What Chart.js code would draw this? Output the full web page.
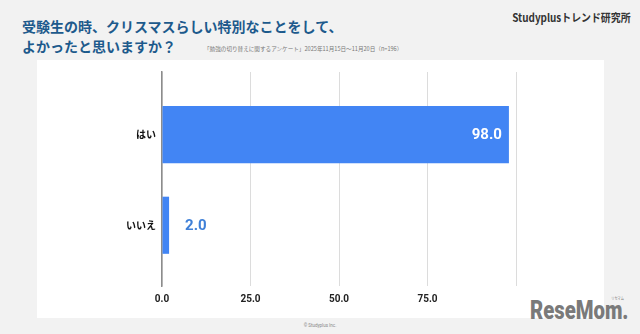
<!DOCTYPE html>
<html lang="ja">
<head>
<meta charset="utf-8">
<script src="https://cdn.jsdelivr.net/npm/chart.js@4.4.1/dist/chart.umd.min.js"></script>
<style>
  html, body { margin: 0; padding: 0; }
  body { width: 640px; height: 334px; background: #f2f2f2; position: relative; overflow: hidden; font-family: 'Noto Sans CJK JP', sans-serif; }
  .panel { position: absolute; left: 37px; top: 60px; width: 567px; height: 258px; background: #fff; }
  .title { position: absolute; left: 22px; top: 16px; margin: 0; font-size: 14px; font-weight: 700; color: #1d5a8c; line-height: 20px; letter-spacing: 0; }
  .sub { position: absolute; left: 204px; top: 45px; font-size: 5.6px; line-height: 8px; color: #777; white-space: nowrap; }
  .brand { position: absolute; right: 9px; top: 11px; font-size: 11px; line-height: 12px; font-weight: 700; color: #333; transform: scaleX(0.9); transform-origin: right center; white-space: nowrap; }
  .copy { position: absolute; left: 0; width: 640px; top: 323px; text-align: center; font-size: 4.5px; line-height: 6px; color: #888; font-family: Roboto, sans-serif; }
  .logo { position: absolute; left: 530px; top: 297px; font-family: Roboto, sans-serif; font-weight: 900; font-size: 26px; line-height: 26px; color: #7a7a7a; transform: scaleX(0.78); transform-origin: left top; }
  .logo small { position: absolute; right: 6px; top: -1px; font-size: 4px; line-height: 5px; font-weight: 400; font-family: 'Noto Sans CJK JP', sans-serif; }
  #chart { position: absolute; left: 0; top: 0; }
</style>
</head>
<body>
<div class="panel"></div>
<h1 class="title">受験生の時、クリスマスらしい特別なことをして、<br>よかったと思いますか？</h1>
<div class="sub">「勉強の切り替えに関するアンケート」2025年11月15日～11月20日（n=196）</div>
<div class="brand">Studyplusトレンド研究所</div>
<div class="copy">© Studyplus Inc.</div>
<div class="logo">ReseMom.<small>リセマム</small></div>
<canvas id="chart" width="640" height="334"></canvas>
<script>
// data
const categories = ['はい', 'いいえ'];
const values = [98.0, 2.0];
const xTicks = [0, 25, 50, 75];

const barBlue = '#4285f4';

// value labels: inside the long bar, outside the short one
const valueLabels = {
    id: 'valueLabels',
    afterDatasetsDraw(chart) {
        const ctx = chart.ctx;
        const meta = chart.getDatasetMeta(0);
        ctx.save();
        ctx.font = 'bold 15px Roboto, sans-serif';
        ctx.textBaseline = 'middle';
        meta.data.forEach((bar, i) => {
            const v = values[i];
            const txt = v.toFixed(1);
            if (v > 50) {
                ctx.fillStyle = '#ffffff';
                ctx.textAlign = 'right';
                ctx.fillText(txt, bar.x - 7, bar.y + 1);
            } else {
                ctx.fillStyle = '#3f80d8';
                ctx.textAlign = 'left';
                ctx.fillText(txt, bar.x + 16, bar.y + 1);
            }
        });
        ctx.restore();
    }
};

new Chart(document.getElementById('chart'), {
    type: 'bar',
    data: {
        datasets: [{
            data: values.map((v, i) => ({ x: v, y: i })),
            backgroundColor: barBlue,
            barPercentage: 0.63,
            categoryPercentage: 1
        }]
    },
    options: {
        indexAxis: 'y',
        responsive: false,
        animation: false,
        layout: { padding: { left: 36, top: 72, right: 124, bottom: 18 } },
        plugins: { legend: { display: false }, tooltip: { enabled: false } },
        scales: {
            x: {
                type: 'linear',
                min: 0,
                max: 100,
                ticks: {
                    stepSize: 25,
                    padding: 7,
                    color: '#222',
                    font: { family: 'Roboto', weight: 'bold', size: 10 },
                    callback: v => xTicks.includes(v) ? v.toFixed(1) : ''
                },
                grid: { color: '#dcdcdc', drawTicks: false },
                border: { display: false },
                afterFit: s => { s.height = 30; }
            },
            y: {
                type: 'linear',
                reverse: true,
                offset: false,
                min: -0.69,
                max: 1.67,
                afterBuildTicks: s => { s.ticks = categories.map((c, i) => ({ value: i })); },
                ticks: {
                    padding: 6,
                    color: '#111',
                    font: { family: 'Noto Sans CJK JP', weight: 'bold', size: 10 },
                    callback: v => categories[v]
                },
                grid: { display: false, drawTicks: false, offset: false },
                border: { display: true, color: '#8c8c8c', width: 1.5 },
                afterFit: s => { s.width = 126; }
            }
        }
    },
    plugins: [valueLabels]
});
</script>
</body>
</html>
